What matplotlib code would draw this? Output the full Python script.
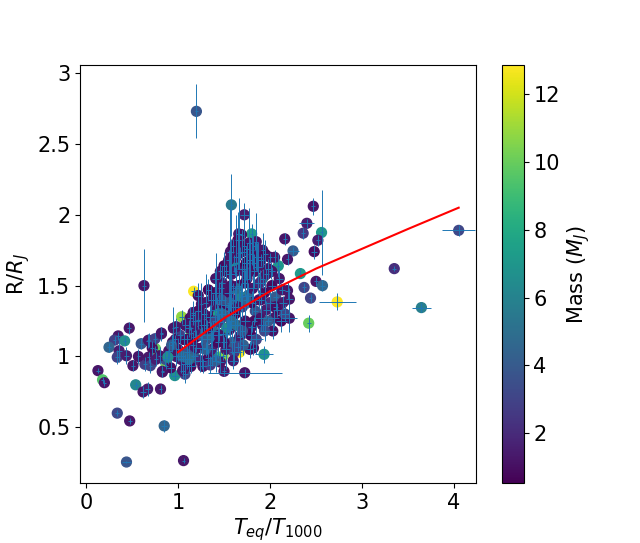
import numpy as np
import matplotlib
matplotlib.use('Agg')
import matplotlib.pyplot as plt
from matplotlib.ticker import FuncFormatter

# T_eq / T_1000, R / R_J, mass (M_J), and the two error bars
teq = [1.20, 1.58, 1.72, 2.47, 2.40, 2.36, 2.56, 2.52, 2.16, 2.48,
       2.25, 2.19, 2.33, 2.50, 2.57, 2.37, 2.44, 2.73, 2.42, 2.21,
       3.35, 3.645, 4.05, 0.63, 1.17, 0.47, 0.35, 0.31, 0.42, 0.25,
       0.36, 0.34, 0.44, 0.13, 0.18, 0.20, 0.51, 0.54, 0.62, 0.67,
       0.81, 0.34, 0.475, 0.85, 0.44, 1.06, 1.50, 1.725, 1.935, 1.82,
       1.67, 1.49, 1.40, 0.965, 1.075, 1.04, 1.145, 0.755, 0.87, 1.92,
       1.80, 1.80, 1.66, 1.61, 1.46, 2.09, 2.05, 1.85, 1.92, 1.80,
       2.015, 2.19, 2.21, 1.81, 0.95, 0.82, 0.675, 0.64, 0.83, 1.255,
       1.36, 1.45, 1.165, 1.22]
radius = [2.73, 2.07, 2.00, 2.06, 1.94, 1.87, 1.875, 1.82, 1.83, 1.74,
          1.745, 1.685, 1.585, 1.53, 1.50, 1.487, 1.412, 1.385, 1.235, 1.27,
          1.62, 1.345, 1.89, 1.50, 1.46, 1.20, 1.145, 1.115, 1.11, 1.065,
          1.04, 0.995, 1.005, 0.90, 0.835, 0.815, 0.935, 0.80, 0.75, 0.77,
          0.77, 0.60, 0.545, 0.51, 0.255, 0.265, 0.895, 0.885, 1.015, 1.06,
          1.03, 1.005, 1.00, 0.865, 0.875, 1.28, 1.165, 1.055, 0.93, 1.22,
          1.21, 1.865, 1.865, 1.655, 1.60, 1.64, 1.70, 1.81, 1.75, 1.725,
          1.605, 1.465, 1.405, 1.75, 1.20, 1.165, 1.11, 0.945, 0.89, 1.37,
          1.395, 1.445, 1.31, 1.255]
mass = [3.8, 5.5, 1.5, 1.2, 1.5, 2.5, 7.0, 1.5, 1.2, 1.0,
        4.0, 1.3, 7.2, 1.2, 4.5, 3.0, 3.0, 12.86, 10.0, 1.2,
        2.2, 5.8, 3.2, 1.3, 12.8, 1.3, 1.2, 2.8, 6.5, 4.5,
        1.5, 2.8, 1.5, 1.2, 9.5, 1.2, 1.2, 6.2, 1.2, 1.5,
        1.3, 3.2, 1.2, 4.5, 3.8, 1.3, 1.3, 1.2, 6.8, 1.2,
        12.7, 10.5, 8.5, 6.8, 3.0, 10.8, 9.5, 10.0, 10.2, 1.5,
        1.3, 7.2, 1.3, 6.8, 1.3, 7.0, 1.3, 1.2, 1.3, 4.0,
        4.5, 1.2, 1.2, 1.2, 1.2, 1.3, 1.5, 2.8, 1.2, 1.2,
        1.2, 1.3, 1.2, 1.5]
teq_err = [0.02, 0.02, 0.05, 0.02, 0.08, 0.02, 0.02, 0.02, 0.02, 0.03,
           0.06, 0.02, 0.02, 0.02, 0.03, 0.02, 0.02, 0.20, 0.02, 0.08,
           0.02, 0.10, 0.18, 0.02, 0.03, 0.02, 0.02, 0.02, 0.02, 0.02,
           0.03, 0.03, 0.03, 0.02, 0.02, 0.02, 0.02, 0.02, 0.03, 0.03,
           0.02, 0.02, 0.02, 0.03, 0.05, 0.02, 0.02, 0.40, 0.10, 0.02,
           0.02, 0.02, 0.02, 0.03, 0.03, 0.03, 0.02, 0.02, 0.02, 0.05,
           0.04, 0.02, 0.03, 0.02, 0.02, 0.02, 0.02, 0.02, 0.02, 0.02,
           0.02, 0.03, 0.04, 0.02, 0.02, 0.02, 0.02, 0.02, 0.02, 0.02,
           0.03, 0.02, 0.02, 0.02]
radius_err = [0.19, 0.22, 0.05, 0.06, 0.03, 0.04, 0.30, 0.04, 0.04, 0.05,
              0.03, 0.04, 0.03, 0.03, 0.04, 0.03, 0.03, 0.06, 0.06, 0.10,
              0.02, 0.03, 0.04, 0.26, 0.03, 0.04, 0.03, 0.03, 0.03, 0.03,
              0.08, 0.05, 0.06, 0.02, 0.02, 0.02, 0.04, 0.02, 0.04, 0.05,
              0.03, 0.02, 0.02, 0.04, 0.01, 0.02, 0.03, 0.03, 0.06, 0.05,
              0.03, 0.03, 0.03, 0.03, 0.06, 0.05, 0.04, 0.02, 0.02, 0.04,
              0.04, 0.07, 0.25, 0.06, 0.05, 0.08, 0.05, 0.20, 0.12, 0.08,
              0.06, 0.06, 0.08, 0.10, 0.15, 0.04, 0.05, 0.05, 0.03, 0.15,
              0.10, 0.08, 0.08, 0.06]

# dense part of the cloud, 1 < T < 2.2
teq_core = [1.00, 1.03, 1.06, 1.08, 1.10, 1.12, 1.14, 1.16, 1.18, 1.20,
            1.22, 1.24, 1.26, 1.28, 1.30, 1.31, 1.33, 1.35, 1.37, 1.38,
            1.40, 1.42, 1.43, 1.45, 1.46, 1.48, 1.49, 1.51, 1.52, 1.54,
            1.55, 1.56, 1.58, 1.59, 1.60, 1.62, 1.63, 1.64, 1.66, 1.67,
            1.69, 1.70, 1.72, 1.73, 1.75, 1.76, 1.78, 1.79, 1.81, 1.83,
            1.84, 1.86, 1.88, 1.90, 1.92, 1.94, 1.96, 1.98, 2.00, 2.02,
            2.04, 2.06, 2.08, 2.10, 2.12, 2.14, 2.16, 1.02, 0.98, 0.94,
            0.90, 0.86, 0.92, 1.05, 1.12, 1.27, 1.35, 1.19, 1.33, 1.41,
            1.50, 1.57, 1.65, 1.70, 1.74, 1.77, 1.87, 1.95, 1.53, 1.44,
            1.68, 1.36, 1.25, 1.61, 1.78, 1.85, 1.71, 1.60, 1.41, 1.89,
            2.03, 1.94, 1.22, 1.13, 1.08, 1.47, 1.63, 1.73, 1.58, 1.80]
radius_core = [1.05, 0.98, 1.12, 0.95, 1.03, 1.20, 0.93, 1.08, 1.00, 1.14,
               1.32, 0.97, 1.06, 1.22, 1.38, 1.12, 0.99, 1.28, 1.05, 1.18,
               1.45, 1.33, 1.10, 1.24, 0.96, 1.52, 1.16, 1.36, 1.05, 1.28,
               1.45, 1.19, 1.58, 1.10, 1.40, 1.30, 1.70, 1.22, 1.50, 1.14,
               1.62, 1.35, 1.78, 1.25, 1.55, 1.43, 1.68, 1.15, 1.48, 1.60,
               1.32, 1.70, 1.40, 1.27, 1.55, 1.45, 1.33, 1.62, 1.38, 1.50,
               1.27, 1.42, 1.33, 1.55, 1.25, 1.38, 1.30, 1.15, 1.00, 1.10,
               1.04, 0.98, 0.92, 0.90, 0.98, 0.93, 0.94, 1.25, 1.47, 1.55,
               1.64, 1.74, 1.82, 1.74, 1.66, 1.80, 1.63, 1.72, 1.20, 1.30,
               1.42, 1.15, 1.15, 1.03, 1.05, 1.12, 1.08, 0.97, 0.97, 1.52,
               1.18, 1.18, 1.43, 1.27, 1.22, 1.40, 1.48, 1.52, 1.35, 1.38]
mass_core = [1.0, 1.5, 0.8, 1.2, 3.5, 1.1, 0.9, 1.4, 4.2, 0.7,
             1.0, 2.0, 1.1, 0.9, 1.3, 3.8, 1.0, 0.8, 1.6, 4.8,
             1.0, 1.2, 0.9, 2.5, 1.1, 1.4, 5.5, 0.7, 1.3, 3.2,
             1.0, 0.9, 1.5, 4.0, 1.2, 0.8, 1.3, 5.0, 1.0, 1.4,
             0.9, 2.8, 1.2, 1.1, 1.6, 4.5, 1.0, 0.8, 1.3, 1.1,
             3.5, 0.9, 1.4, 1.2, 5.2, 1.0, 1.5, 1.1, 2.2, 0.9,
             1.3, 4.0, 1.0, 1.2, 0.8, 1.4, 3.0, 2.8, 1.2, 0.9,
             1.1, 3.5, 1.0, 1.3, 5.0, 1.1, 2.6, 1.6, 0.8, 1.1,
             0.9, 1.2, 1.0, 1.3, 0.52, 1.1, 1.2, 0.9, 6.5, 7.5,
             6.0, 4.5, 3.8, 2.5, 1.0, 3.0, 4.2, 1.4, 4.0, 2.0,
             1.1, 3.2, 1.1, 1.0, 1.2, 3.5, 4.8, 1.0, 1.3, 0.9]
teq_err_core = [0.03, 0.04, 0.03, 0.05, 0.03, 0.04, 0.05, 0.03, 0.04, 0.05,
                0.03, 0.06, 0.04, 0.05, 0.03, 0.05, 0.04, 0.06, 0.03, 0.05,
                0.04, 0.07, 0.03, 0.05, 0.04, 0.03, 0.06, 0.04, 0.05, 0.03,
                0.05, 0.04, 0.06, 0.03, 0.05, 0.04, 0.03, 0.06, 0.04, 0.03,
                0.05, 0.04, 0.03, 0.05, 0.04, 0.06, 0.03, 0.04, 0.05, 0.04,
                0.03, 0.05, 0.04, 0.06, 0.03, 0.05, 0.04, 0.03, 0.05, 0.04,
                0.06, 0.03, 0.05, 0.04, 0.06, 0.04, 0.05, 0.03, 0.04, 0.03,
                0.04, 0.03, 0.04, 0.03, 0.05, 0.04, 0.03, 0.05, 0.03, 0.04,
                0.03, 0.04, 0.03, 0.05, 0.04, 0.03, 0.04, 0.03, 0.05, 0.04,
                0.03, 0.06, 0.04, 0.05, 0.04, 0.07, 0.04, 0.05, 0.04, 0.05,
                0.04, 0.05, 0.04, 0.03, 0.04, 0.05, 0.04, 0.03, 0.06, 0.05]
radius_err_core = [0.08, 0.10, 0.05, 0.07, 0.12, 0.06, 0.05, 0.09, 0.07, 0.05,
                   0.10, 0.08, 0.15, 0.06, 0.20, 0.10, 0.06, 0.08, 0.12, 0.07,
                   0.15, 0.09, 0.11, 0.06, 0.08, 0.12, 0.10, 0.07, 0.14, 0.09,
                   0.30, 0.06, 0.25, 0.08, 0.12, 0.20, 0.30, 0.07, 0.10, 0.18,
                   0.25, 0.08, 0.30, 0.12, 0.20, 0.09, 0.15, 0.07, 0.10, 0.12,
                   0.08, 0.10, 0.06, 0.09, 0.07, 0.08, 0.06, 0.07, 0.09, 0.05,
                   0.06, 0.07, 0.05, 0.06, 0.08, 0.05, 0.06, 0.06, 0.07, 0.05,
                   0.06, 0.05, 0.06, 0.05, 0.10, 0.05, 0.06, 0.07, 0.08, 0.18,
                   0.10, 0.30, 0.20, 0.15, 0.12, 0.25, 0.18, 0.10, 0.07, 0.06,
                   0.10, 0.09, 0.07, 0.08, 0.06, 0.10, 0.07, 0.06, 0.08, 0.09,
                   0.06, 0.07, 0.09, 0.08, 0.05, 0.12, 0.10, 0.09, 0.11, 0.08]

# more of the crowded middle
teq_mid = [1.52, 1.55, 1.60, 1.67, 1.62, 1.69, 1.75, 1.84, 1.90, 1.96,
           2.00, 1.82, 1.72, 1.58, 1.47, 1.38, 1.28, 1.18, 1.32, 1.40,
           1.48, 1.56, 1.65, 1.74, 1.83, 1.70, 1.58, 1.45, 1.30, 1.20,
           1.50, 1.65, 1.90, 2.06, 2.13, 2.02, 1.98, 1.10, 1.05, 0.97]
radius_mid = [1.60, 1.68, 1.78, 1.73, 1.60, 1.86, 1.76, 1.78, 1.68, 1.58,
              1.70, 1.66, 1.60, 1.50, 1.48, 1.40, 1.30, 1.18, 1.20, 1.25,
              1.30, 1.38, 1.35, 1.40, 1.25, 1.18, 1.25, 1.15, 1.05, 1.06,
              1.10, 1.07, 1.40, 1.35, 1.47, 1.60, 1.25, 1.12, 1.00, 1.12]
mass_mid = [1.0, 1.2, 0.9, 1.1, 1.3, 1.0, 0.8, 1.2, 1.0, 1.3,
            1.1, 1.0, 1.4, 1.1, 1.2, 1.0, 1.1, 1.3, 1.0, 3.0,
            4.5, 3.8, 1.2, 4.2, 1.0, 3.5, 4.8, 1.1, 4.0, 1.2,
            1.0, 3.0, 1.2, 1.0, 1.3, 1.1, 4.0, 1.0, 4.5, 1.1]
teq_err_mid = [0.02, 0.03, 0.02, 0.03, 0.02, 0.02, 0.03, 0.02, 0.03, 0.03,
               0.02, 0.03, 0.02, 0.03, 0.03, 0.03, 0.03, 0.02, 0.03, 0.03,
               0.04, 0.03, 0.03, 0.03, 0.03, 0.03, 0.03, 0.03, 0.03, 0.03,
               0.03, 0.03, 0.03, 0.03, 0.03, 0.03, 0.03, 0.03, 0.03, 0.02]
radius_err_mid = [0.05, 0.04, 0.05, 0.04, 0.03, 0.03, 0.04, 0.03, 0.04, 0.04,
                  0.03, 0.04, 0.05, 0.04, 0.05, 0.04, 0.04, 0.05, 0.06, 0.04,
                  0.05, 0.06, 0.05, 0.04, 0.03, 0.04, 0.06, 0.04, 0.05, 0.03,
                  0.04, 0.03, 0.03, 0.03, 0.03, 0.03, 0.03, 0.03, 0.04, 0.03]

# low-temperature group
teq_low = [0.60, 0.68, 0.75, 0.82, 0.68, 0.80, 0.70, 0.83, 0.93, 0.89,
           0.98, 1.16, 0.72, 0.76, 0.57]
radius_low = [1.09, 1.115, 1.125, 1.16, 0.995, 1.005, 0.935, 0.895, 1.08, 0.995,
              1.21, 1.29, 1.06, 0.98, 1.00]
mass_low = [3.8, 1.2, 2.8, 1.2, 1.3, 1.1, 3.0, 1.2, 4.0, 6.5,
            1.2, 1.3, 1.0, 1.5, 1.2]
teq_err_low = [0.02] * 15
radius_err_low = [0.04, 0.05, 0.04, 0.05, 0.04, 0.06, 0.05, 0.04, 0.05, 0.05,
                  0.06, 0.07, 0.05, 0.05, 0.05]

# fitted relation (red curve)
fit_teq = [1.0, 1.5, 2.0, 2.5, 3.0, 3.5, 4.05]
fit_radius = [1.03, 1.27, 1.46, 1.62, 1.76, 1.90, 2.05]

x = np.array(teq + teq_core + teq_mid + teq_low)
y = np.array(radius + radius_core + radius_mid + radius_low)
m = np.array(mass + mass_core + mass_mid + mass_low)
xe = np.array(teq_err + teq_err_core + teq_err_mid + teq_err_low)
ye = np.array(radius_err + radius_err_core + radius_err_mid + radius_err_low)

plt.rcParams['font.size'] = 15

fig = plt.figure(figsize=(6.4, 5.43), dpi=100)
ax = fig.add_axes([0.125, 0.110, 0.619, 0.770])
cax = fig.add_axes([0.785, 0.110, 0.033, 0.770])

sc = ax.scatter(x, y, c=m, cmap='viridis', s=50, zorder=1)
ax.errorbar(x, y, xerr=xe, yerr=ye, fmt='none', ecolor='C0', elinewidth=0.7, zorder=2)
ax.plot(fit_teq, fit_radius, color='red', lw=1.5, zorder=3)

ax.set_xlim(-0.065, 4.24)
ax.set_ylim(0.105, 3.056)
ax.set_yticks([0.5, 1, 1.5, 2, 2.5, 3])
ax.yaxis.set_major_formatter(FuncFormatter(lambda v, p: '%g' % v))
ax.set_xlabel(r'$T_{eq}/T_{1000}$', labelpad=2)
ax.set_ylabel(r'R/$R_J$')

cb = fig.colorbar(sc, cax=cax)
cb.set_label(r'Mass ($M_J$)')

plt.savefig('out.png')
